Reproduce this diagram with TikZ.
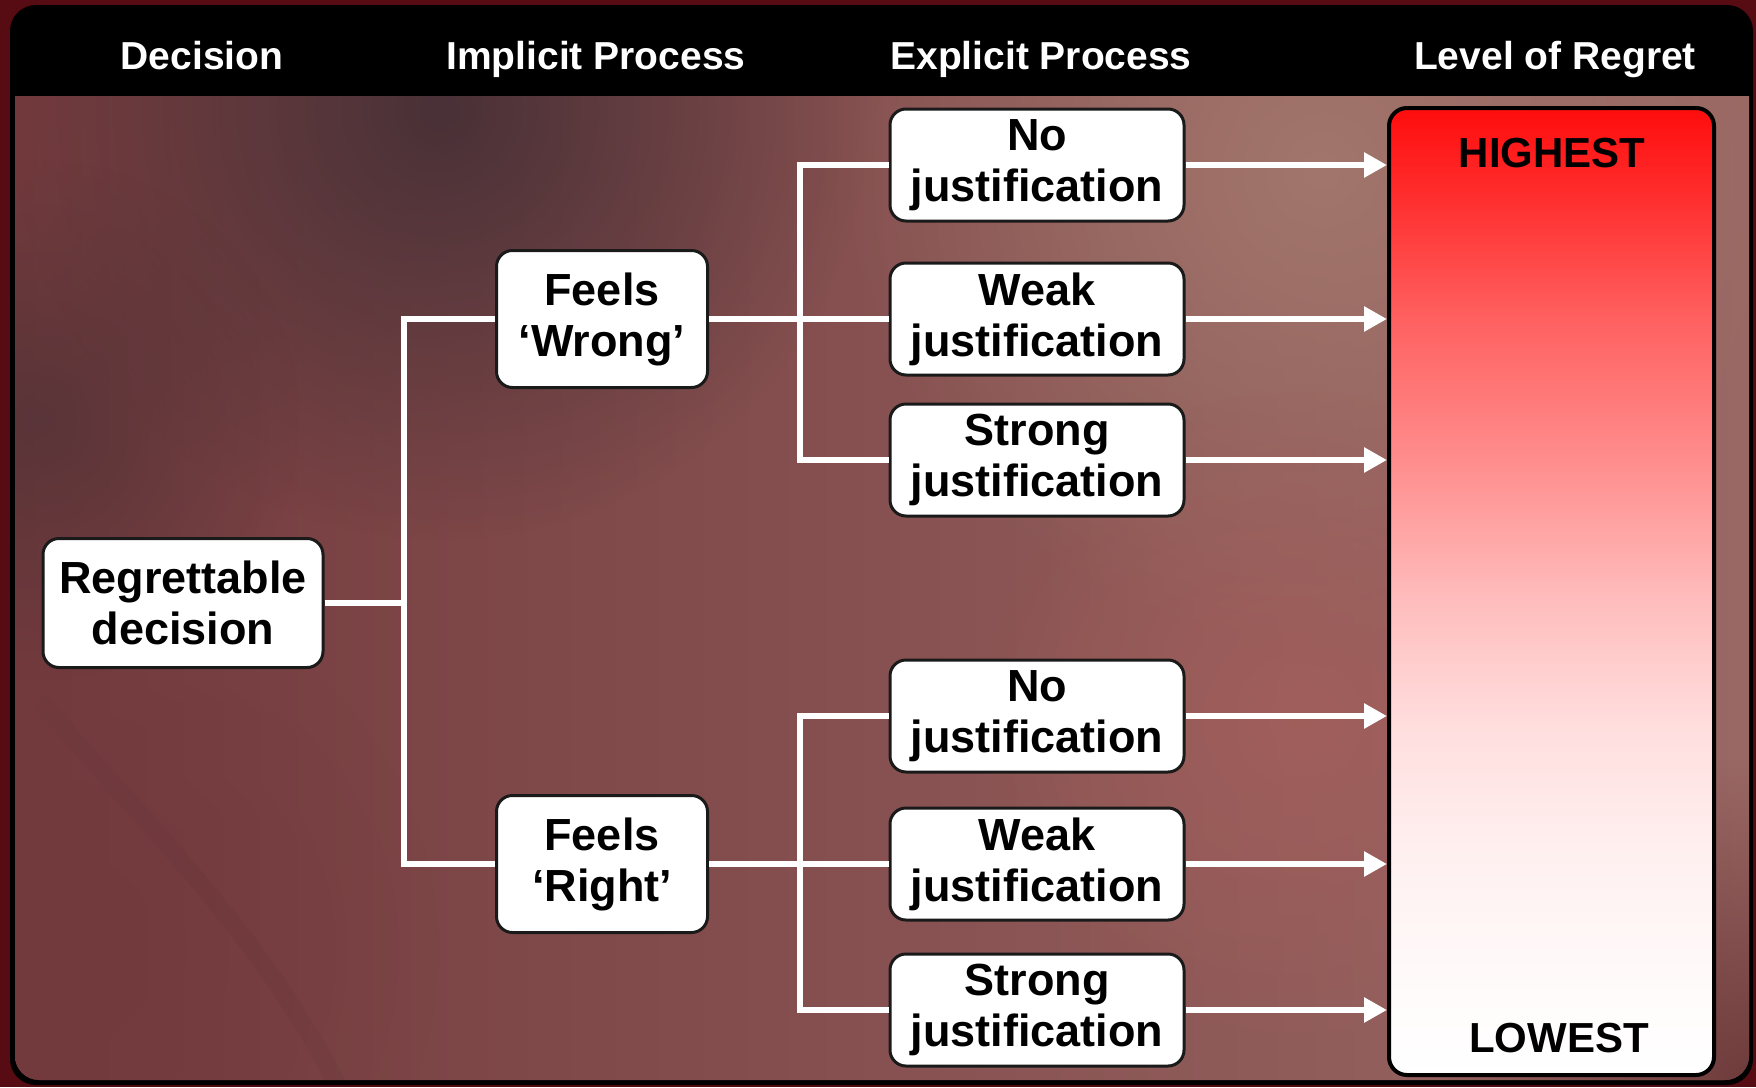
\documentclass[tikz,border=0pt]{standalone}
\usepackage{fontspec}
\setmainfont{Liberation Sans}
\usetikzlibrary{arrows.meta,fadings,calc}
\pgfdeclareverticalshading{regret}{100bp}{color(0bp)=(white); color(25bp)=(white); color(30bp)=(red!2); color(36.5bp)=(red!6); color(43bp)=(red!13); color(49.5bp)=(red!26); color(56.5bp)=(red!44); color(64bp)=(red!62); color(70bp)=(red!81); color(75bp)=(red!95); color(100bp)=(red!95)}
\tikzfading[name=softblob, inner color=transparent!0, outer color=transparent!100]
\definecolor{outerred}{HTML}{560C12}
\definecolor{bgL}{HTML}{733A3D}
\definecolor{bgM}{HTML}{7D4548}
\definecolor{bgR}{HTML}{9A6864}
\definecolor{boxline}{HTML}{1A1A1A}
\begin{document}
\begin{tikzpicture}[x=1pt,y=-1pt,
  box/.style={draw=boxline, line width=3pt, fill=white, rounded corners=16pt, align=center,
    font=\fontsize{45}{51}\selectfont\bfseries, inner sep=0pt, text=black},
  jbox/.style={box, minimum width=294pt, minimum height=112pt},
  fbox/.style={box, minimum width=211pt, minimum height=137pt},
  hdr/.style={text=white, font=\fontsize{39}{44}\selectfont\bfseries, anchor=base, inner sep=0pt},
  lvl/.style={text=black, font=\fontsize{42}{46}\selectfont\bfseries, anchor=base, inner sep=0pt},
  conn/.style={draw=white, line width=6pt, line join=miter},
  arr/.style={conn, -{Triangle[length=23pt,width=24pt]}},
  blob/.style={path fading=softblob}
]
\useasboundingbox (0,0) rectangle (1756,1087);
% outer frame
\fill[outerred] (0,0) rectangle (1756,1087);
% panel
\fill[black, rounded corners=26pt] (10,5) rectangle (1753,1085);
\begin{scope}
  \clip (15,96) -- (1749,96) {[rounded corners=24pt] -- (1749,1080) -- (15,1080)} -- cycle;
  \fill[left color=bgL, middle color=bgM, right color=bgR] (15,96) rectangle (1749,1080);
  \fill[color=bgL, blob, fill opacity=0.9] (60,950) circle (380);
  \fill[color={rgb,255:red,162;green,118;blue,108}, blob] (1320,170) circle (480);
  \fill[color={rgb,255:red,165;green,95;blue,92}, blob, fill opacity=0.8] (1300,720) circle (330);
  \fill[color={rgb,255:red,70;green,48;blue,54}, blob, fill opacity=0.95] (440,110) circle (430);
  \fill[color={rgb,255:red,78;green,50;blue,54}, blob, fill opacity=0.7] (40,420) circle (260);
  \fill[color={rgb,255:red,100;green,48;blue,50}, blob, fill opacity=0.8] (1749,1080) circle (320);
  \draw[color={rgb,255:red,95;green,52;blue,56}, line width=18pt, opacity=0.15]
    (40,700) .. controls (140,820) and (260,930) .. (340,1090);
\end{scope}
% headers
\node[hdr] (h1) at (202,69) {Decision};
\node[hdr] (h2) at (596,69) {Implicit Process};
\node[hdr] (h3) at (1041,69) {Explicit Process};
\node[hdr] (h4) at (1555,69) {Level of Regret};
% regret bar
\node[draw=black, line width=4pt, rounded corners=18pt, shade, shading=regret,
  minimum width=325pt, minimum height=967pt, inner sep=0pt] (bar) at (1551.5,591.5) {};
\node[lvl] (hi) at (1552,167) {HIGHEST};
\node[lvl] (lo) at (1559,1052) {LOWEST};
% nodes
\node[box, minimum width=280pt, minimum height=129pt] (reg) at (183,603) {Regrettable\\decision};
\node[fbox] (fw) at (602,319) {Feels\\‘Wrong’};
\node[fbox] (fr) at (602,864) {Feels\\‘Right’};
\node[jbox] (j1) at (1037,165) {No\\justification};
\node[jbox] (j2) at (1037,319) {Weak\\justification};
\node[jbox] (j3) at (1037,460) {Strong\\justification};
\node[jbox] (j4) at (1037,716) {No\\justification};
\node[jbox] (j5) at (1037,864) {Weak\\justification};
\node[jbox] (j6) at (1037,1010) {Strong\\justification};
% connectors
\coordinate (s1) at (404,0);
\coordinate (s2) at (800,0);
\draw[conn] (reg.east) -- (reg.east -| s1);
\draw[conn] (fw.west) -- (fw.west -| s1) -- (fr.west -| s1) -- (fr.west);
\draw[conn] (fw.east) -- (j2.west);
\draw[conn] (j1.west) -- (j1.west -| s2) -- (j3.west -| s2) -- (j3.west);
\draw[conn] (fr.east) -- (j5.west);
\draw[conn] (j4.west) -- (j4.west -| s2) -- (j6.west -| s2) -- (j6.west);
\foreach \j in {j1,j2,j3,j4,j5,j6}
  \draw[arr] (\j.east) -- (\j.east -| bar.west);
\end{tikzpicture}
\end{document}
